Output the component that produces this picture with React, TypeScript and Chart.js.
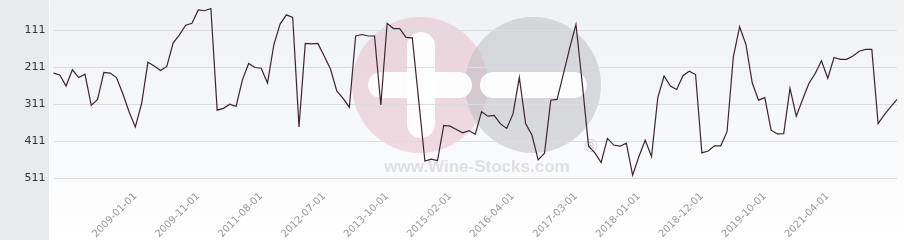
import React, { useEffect, useRef } from 'react';
import { Chart, registerables } from 'chart.js';

Chart.register(...registerables);

// Rank values (lower = better), one per sample
const ranks: number[] = [
  227, 232, 262, 218, 239, 230, 314, 298, 225, 227,
  239, 282, 331, 372, 309, 198, 208, 220, 209, 146,
  124, 98, 93, 57, 59, 53, 327, 322, 311, 317,
  246, 201, 212, 214, 254, 151, 95, 70, 77, 372,
  147, 148, 147, 181, 216, 275, 295, 319, 127, 123,
  127, 127, 313, 93, 107, 107, 131, 132, 298, 464,
  459, 463, 368, 370, 379, 388, 382, 392, 331, 343,
  341, 364, 376, 337, 239, 363, 394, 461, 443, 300,
  298, 230, 160, 96, 255, 424, 442, 468, 403, 421,
  424, 416, 502, 452, 408, 452, 293, 235, 262, 271,
  234, 222, 231, 442, 437, 423, 423, 385, 183, 102,
  150, 253, 300, 293, 381, 391, 390, 268, 343, 298,
  255, 228, 194, 241, 185, 190, 190, 181, 168, 163,
  163, 363, 339, 318, 298,
];

const tickLabels: string[] = [
  '2009-01-01', '2009-11-01', '2011-08-01', '2012-07-01', '2013-10-01', '2015-02-01',
  '2016-04-01', '2017-03-01', '2018-01-01', '2018-12-01', '2019-10-01', '2021-04-01',
];
const firstTickIndex = 13;
const tickStep = 10;

const yTicks: number[] = [111, 211, 311, 411, 511];

const categories: string[] = ranks.map((_, i) => {
  const k = (i - firstTickIndex) / tickStep;
  return i >= firstTickIndex && Number.isInteger(k) && k < tickLabels.length ? tickLabels[k] : '';
});

function roundRect(ctx: CanvasRenderingContext2D, x: number, y: number, w: number, h: number, r: number) {
  ctx.beginPath();
  ctx.moveTo(x + r, y);
  ctx.lineTo(x + w - r, y);
  ctx.arcTo(x + w, y, x + w, y + r, r);
  ctx.lineTo(x + w, y + h - r);
  ctx.arcTo(x + w, y + h, x + w - r, y + h, r);
  ctx.lineTo(x + r, y + h);
  ctx.arcTo(x, y + h, x, y + h - r, r);
  ctx.lineTo(x, y + r);
  ctx.arcTo(x, y, x + r, y, r);
  ctx.closePath();
}

const backgroundPlugin = {
  id: 'bgPanel',
  beforeDraw(chart: any) {
    const ctx: CanvasRenderingContext2D = chart.ctx;
    const W = chart.width;
    const H = chart.height;
    ctx.save();
    ctx.fillStyle = '#ffffff';
    ctx.fillRect(0, 0, W, H);
    ctx.fillStyle = '#e8ebee';
    ctx.fillRect(0, 0, 49, H);
    const g = ctx.createLinearGradient(0, 0, 0, H);
    g.addColorStop(0, '#eff1f5');
    g.addColorStop(1, '#ffffff');
    ctx.fillStyle = g;
    ctx.fillRect(50, 0, W - 50, H);

    // watermark
    ctx.fillStyle = 'rgba(224,170,186,0.4)';
    ctx.beginPath();
    ctx.arc(420, 85, 68, 0, Math.PI * 2);
    ctx.fill();
    ctx.fillStyle = 'rgba(185,185,190,0.5)';
    ctx.beginPath();
    ctx.arc(533, 85, 68, 0, Math.PI * 2);
    ctx.fill();
    ctx.fillStyle = 'rgba(255,255,255,0.95)';
    roundRect(ctx, 368, 72, 104, 26, 13);
    ctx.fill();
    roundRect(ctx, 407, 32, 28, 106, 14);
    ctx.fill();
    roundRect(ctx, 480, 72, 107, 26, 13);
    ctx.fill();
    ctx.fillStyle = 'rgba(200,200,203,0.55)';
    ctx.font = 'bold 17px "Liberation Sans", Arial, sans-serif';
    ctx.textAlign = 'center';
    ctx.textBaseline = 'alphabetic';
    ctx.fillText('www.Wine-Stocks.com', 477, 172);
    ctx.fillStyle = 'rgba(185,185,190,0.6)';
    ctx.font = '17px "DejaVu Sans", sans-serif';
    ctx.fillText('®', 591, 152);
    ctx.restore();
  },
};

export default function App() {
  const canvasRef = useRef<HTMLCanvasElement | null>(null);

  useEffect(() => {
    if (!canvasRef.current) return;
    const chart = new Chart(canvasRef.current, {
      type: 'line',
      data: {
        labels: categories,
        datasets: [
          {
            data: ranks,
            borderColor: '#3a2530',
            borderWidth: 1.2,
            pointRadius: 0,
            tension: 0,
            fill: false,
          },
        ],
      },
      options: {
        animation: false,
        responsive: false,
        devicePixelRatio: 1,
        layout: { padding: { left: 0, right: 7, top: 0, bottom: 0 } },
        plugins: {
          legend: { display: false },
          tooltip: { enabled: false },
        },
        scales: {
          x: {
            type: 'category',
            offset: false,
            grid: { display: false },
            border: { display: false },
            ticks: {
              autoSkip: false,
              minRotation: 45,
              maxRotation: 45,
              padding: -3,
              color: '#999999',
              font: { family: '"DejaVu Sans", sans-serif', size: 10 },
            },
            afterFit(scale: any) {
              scale.height = 54.5;
              scale.paddingLeft = 0;
              scale.paddingRight = 0;
            },
          },
          y: {
            reverse: true,
            min: 30,
            max: 530,
            grid: { color: '#dcdcdf', drawTicks: false, lineWidth: 1 },
            border: { display: false },
            afterBuildTicks(scale: any) {
              scale.ticks = yTicks.map((v) => ({ value: v }));
            },
            ticks: {
              padding: 8,
              color: '#333333',
              font: { family: '"DejaVu Sans", sans-serif', size: 11 },
            },
            afterFit(scale: any) {
              scale.width = 53.5;
              scale.paddingTop = 0;
              scale.paddingBottom = 0;
            },
          },
        },
      },
      plugins: [backgroundPlugin],
    });
    return () => chart.destroy();
  }, []);

  return (
    <div style={{ position: 'absolute', left: 0, top: 0, width: 904, height: 240 }}>
      <canvas ref={canvasRef} width={904} height={240} style={{ display: 'block' }} />
    </div>
  );
}
